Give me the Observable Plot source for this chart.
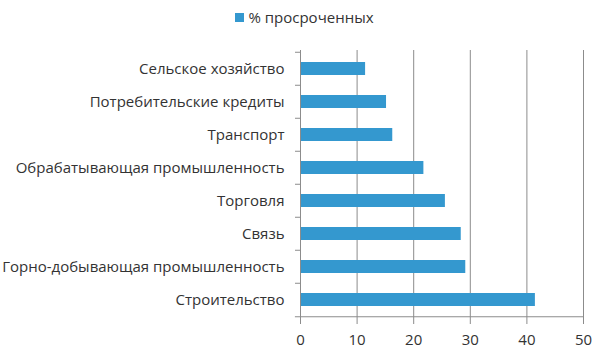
<!DOCTYPE html>
<html><head><meta charset="utf-8">
<script src="https://cdn.jsdelivr.net/npm/d3@7"></script>
<script src="https://cdn.jsdelivr.net/npm/@observablehq/plot@0.6"></script>
<style>
body{margin:0;background:#fff;font-family:"Open Sans",sans-serif;}
#legend{height:34px;display:flex;align-items:center;justify-content:center;padding-left:10px;box-sizing:border-box;font-size:15px;color:#333;}
#legend span.sw{display:inline-block;width:9px;height:9px;background:#3498cf;margin-right:4px;}
</style></head>
<body>
<div id="legend"><span class="sw"></span><span id="lt"></span></div>
<div id="chart"></div>
<script>
const categories = ["Сельское хозяйство","Потребительские кредиты","Транспорт","Обрабатывающая промышленность","Торговля","Связь","Горно-добывающая промышленность","Строительство"];
const values = [11.5, 15.2, 16.3, 21.8, 25.6, 28.4, 29.2, 41.5];
const seriesName = "% просроченных";
const xTicks = [0,10,20,30,40,50];

document.getElementById("lt").textContent = seriesName;
const data = categories.map((c,i)=>({category:c, value:values[i]}));
const color = "#3498cf";
const gray = "#8c8c8c";
const step = 33.5;

const chart = Plot.plot({
  width: 599, height: 320,
  marginTop: 16, marginBottom: 36, marginLeft: 300, marginRight: 16,
  style: {fontFamily: "'Open Sans', sans-serif", fontSize: "15px", color: "#333", background: "#fff"},
  x: {domain: [0,50], ticks: xTicks},
  y: {domain: categories, paddingInner: 0.6, paddingOuter: 0.3},
  marks: [
    Plot.gridX(xTicks.slice(1), {stroke: gray, strokeOpacity: 1}),
    Plot.barX(data, {x: "value", y: "category", fill: color}),
    Plot.axisX({ticks: xTicks, tickSize: 6, tickPadding: 10, stroke: gray, label: null, fontSize: 15, fill: "#333"}),
    Plot.axisY({tickSize: 0, tickPadding: 16, label: null, fontSize: 15, fill: "#333"}),
    Plot.axisY({tickSize: 5, text: null, label: null, dy: -step/2, stroke: gray}),
    Plot.ruleY([categories[categories.length-1]], {x1: -0.9, x2: 0, dy: step/2, stroke: gray}),
    Plot.ruleX([0], {stroke: gray}),
    Plot.ruleY([categories[categories.length-1]], {x1: 0, x2: 50, dy: step/2, stroke: gray})
  ]
});
document.getElementById("chart").appendChild(chart);
</script>
</body></html>
